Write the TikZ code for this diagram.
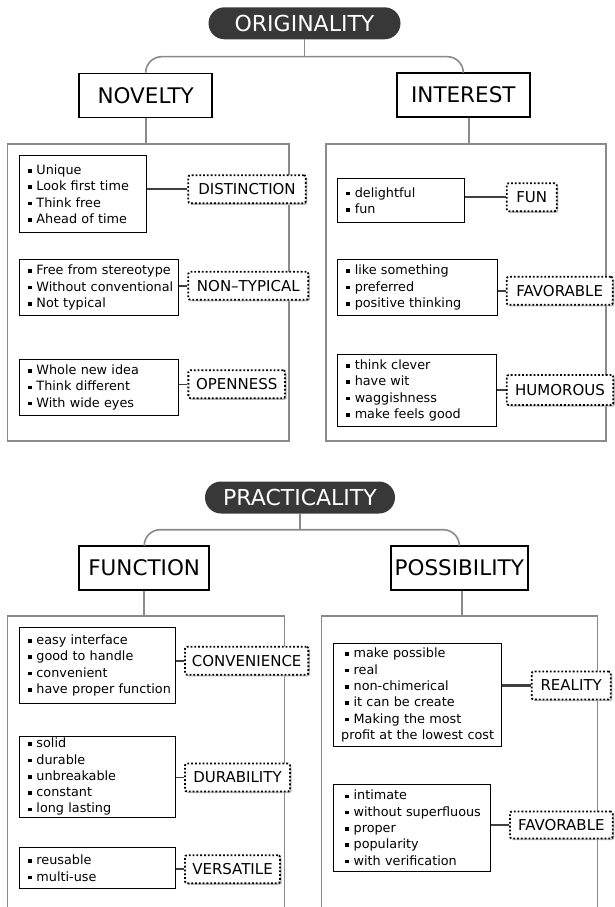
\documentclass[tikz,border=0pt]{standalone}
\usepackage{fontspec}
\setmainfont{DejaVu Sans}
\usepackage{tikz}
\usetikzlibrary{calc}
\usetikzlibrary{positioning}
\usetikzlibrary{shadows}

\definecolor{pillgray}{HTML}{383838}
\definecolor{linegray}{HTML}{8A8A8A}
\definecolor{linkgray}{HTML}{404040}
\definecolor{shadowgray}{HTML}{BDBDBD}

\newcommand{\itm}[2][8.5pt]{\hspace*{#1}\makebox[8.5pt][l]{\rule[1.8pt]{3.6pt}{3.6pt}}#2}

\tikzset{
  mypill/.style={
    fill=pillgray,
    text=white,
    rounded corners=16pt,
    minimum height=32pt,
    inner sep=0pt,
    font=\fontsize{22}{26}\selectfont
  },
  mybranch/.style={
    draw=black,
    line width=1.6pt,
    fill=white,
    minimum height=44pt,
    inner sep=0pt,
    font=\fontsize{21.5}{25}\selectfont
  },
  myitems/.style={
    draw=black,
    line width=0.9pt,
    fill=white,
    anchor=north west,
    inner xsep=0pt,
    inner ysep=0pt,
    align=left,
    font=\fontsize{12.8}{16.3}\selectfont
  },
  mylabel/.style={
    draw=black,
    dotted,
    line width=1.8pt,
    rounded corners=2pt,
    fill=white,
    minimum height=28pt,
    inner sep=0pt,
    font=\fontsize{15}{18}\selectfont,
    drop shadow={shadow xshift=1.6pt, shadow yshift=-1.6pt, fill=shadowgray, opacity=1}
  },
  mygroup/.style={
    draw=linegray,
    line width=1.6pt,
    inner sep=0pt,
    outer sep=0pt
  },
  mytree/.style={
    draw=linegray,
    line width=1.6pt,
    rounded corners=16pt
  },
  mylink/.style={
    draw=linkgray,
    line width=2.4pt
  },
  mythinlink/.style={
    draw=linkgray,
    line width=1.4pt
  },
}

\begin{document}
\begin{tikzpicture}[x=1pt, y=-1pt]
    \useasboundingbox (0,0) rectangle (614,907);

    \node[mygroup, minimum width=281.4pt, minimum height=297pt] (novgroup) at (148,292.5) {};
    \node[mygroup, minimum width=280pt,   minimum height=297pt] (intgroup) at (466,292.5) {};
    \coordinate (funcgroup) at (0,616);
    \coordinate (possgroup) at (0,616);
    \draw[mygroup] (7.3,907) |- (284.3,616) -- (284.3,907);
    \draw[mygroup] (321.5,907) |- (597.5,616) -- (597.5,907);

    \node[mypill, minimum width=192pt] (orig)  at (304.5,23.3)  {ORIGINALITY};
    \node[mypill, minimum width=190pt] (pract) at (300,497.5)   {PRACTICALITY};
    \coordinate (origjoin)  at (304.5,56.7);
    \coordinate (practjoin) at (300,529.7);

    \node[mybranch, minimum width=133pt] (novelty)     at (145.7,95.5) {NOVELTY};
    \node[mybranch, minimum width=133pt] (interest)    at (463.3,94.7) {INTEREST};
    \node[mybranch, minimum width=130pt] (function)    at (144.2,568)  {FUNCTION};
    \node[mybranch, minimum width=137pt] (possibility) at (459.3,568)  {POSSIBILITY};

    \draw[mytree] (novelty.north) |- (origjoin) -| (interest.north);
    \draw[mygroup] (orig.south) -- (origjoin);
    \draw[mytree] (function.north) |- (practjoin) -| (possibility.north);
    \draw[mygroup] (pract.south) -- (practjoin);

    \draw[mygroup] (novelty.south) -- (novelty.south |- novgroup.north);
    \draw[mygroup] ($(interest.south)+(5.5,0)$) -- ($(interest.south |- intgroup.north)+(5.5,0)$);
    \draw[mygroup] (function.south) -- (function.south |- funcgroup);
    \draw[mygroup] ($(possibility.south)+(2.5,0)$) -- ($(possibility.south |- possgroup)+(2.5,0)$);

    \node[myitems, text width=126.7pt, minimum height=77.3pt] (unique) at (19,155)
        {\itm{Unique}\\ \itm{Look first time}\\ \itm{Think free}\\ \itm{Ahead of time}};
    \node[myitems, text width=158.7pt, minimum height=55.7pt] (free) at (19,259.3)
        {\itm{Free from stereotype}\\ \itm{Without conventional}\\ \itm{Not typical}};
    \node[myitems, text width=158.7pt, minimum height=56pt] (whole) at (19,359)
        {\itm{Whole new idea}\\ \itm{Think different}\\ \itm{With wide eyes}};

    \node[myitems, text width=126.7pt, minimum height=43.4pt] (delight) at (337.3,178.3)
        {\itm{delightful}\\ \itm{fun}};
    \node[myitems, text width=160pt, minimum height=55.7pt] (like) at (337.3,259.3)
        {\itm{like something}\\ \itm{preferred}\\ \itm{positive thinking}};
    \node[myitems, text width=158.4pt, minimum height=72pt] (clever) at (337.3,354)
        {\itm{think clever}\\ \itm{have wit}\\ \itm{waggishness}\\ \itm{make feels good}};

    \node[myitems, text width=156pt, minimum height=75.4pt] (easy) at (19,627.3)
        {\itm{easy interface}\\ \itm{good to handle}\\ \itm{convenient}\\ \itm{have proper function}};
    \node[myitems, text width=156pt, minimum height=80.7pt] (solid) at (19,736)
        {\itm{solid}\\ \itm{durable}\\ \itm{unbreakable}\\ \itm{constant}\\ \itm{long lasting}};
    \node[myitems, text width=156pt, minimum height=41pt] (reuse) at (19,847.3)
        {\itm{reusable}\\ \itm{multi-use}};

    \node[myitems, text width=168pt, minimum height=102.7pt] (makeposs) at (332.7,643.3)
        {\itm[12pt]{make possible}\\ \itm[12pt]{real}\\ \itm[12pt]{non-chimerical}\\ \itm[12pt]{it can be create}\\ \itm[12pt]{Making the most}\\ \hspace*{8pt}profit at the lowest cost};
    \node[myitems, text width=157.3pt, minimum height=86.7pt] (intimate) at (332.7,784)
        {\itm[12pt]{intimate}\\ \itm[12pt]{without superfluous}\\ \itm[12pt]{proper}\\ \itm[12pt]{popularity}\\ \itm[12pt]{with verification}};

    \node[mylabel, minimum width=117.4pt] (distinction) at (247,189.2)   {DISTINCTION};
    \node[mylabel, minimum width=120pt]   (nontypical)  at (248.3,285.8) {NON–TYPICAL};
    \node[mylabel, minimum width=96.7pt]  (openness)    at (236.7,384.2) {OPENNESS};
    \node[mylabel, minimum width=50pt]    (fun)         at (531.7,197.2) {FUN};
    \node[mylabel, minimum width=106pt]   (favorable)   at (559.7,290.8) {FAVORABLE};
    \node[mylabel, minimum width=106.6pt, minimum height=30pt] (humorous) at (560,390) {HUMOROUS};
    \node[mylabel, minimum width=123.3pt] (convenience) at (246.7,660.8) {CONVENIENCE};
    \node[mylabel, minimum width=105pt]   (durability)  at (237.5,777.5) {DURABILITY};
    \node[mylabel, minimum width=95pt]    (versatile)   at (232.5,869.2) {VERSATILE};
    \node[mylabel, minimum width=79pt]    (reality)     at (571.2,685.5) {REALITY};
    \node[mylabel, minimum width=102.7pt, minimum height=27pt] (favorable2) at (561.3,825) {FAVORABLE};

    \draw[mylink]     (distinction.west) -- (distinction.west -| unique.east);
    \draw[mythinlink] (nontypical.west)  -- (nontypical.west -| free.east);
    \draw[mythinlink] (openness.west)    -- (openness.west -| whole.east);
    \draw[mylink]     (fun.west)         -- (fun.west -| delight.east);
    \draw[mythinlink] (favorable.west)   -- (favorable.west -| like.east);
    \draw[mythinlink] (humorous.west)    -- (humorous.west -| clever.east);
    \draw[mythinlink] (convenience.west) -- (convenience.west -| easy.east);
    \draw[mythinlink] (durability.west)  -- (durability.west -| solid.east);
    \draw[mylink]     (versatile.west)   -- (versatile.west -| reuse.east);
    \draw[mylink]     (reality.west)     -- (reality.west -| makeposs.east);
    \draw[mythinlink] (favorable2.west)  -- (favorable2.west -| intimate.east);
  \end{tikzpicture}
\end{document}
